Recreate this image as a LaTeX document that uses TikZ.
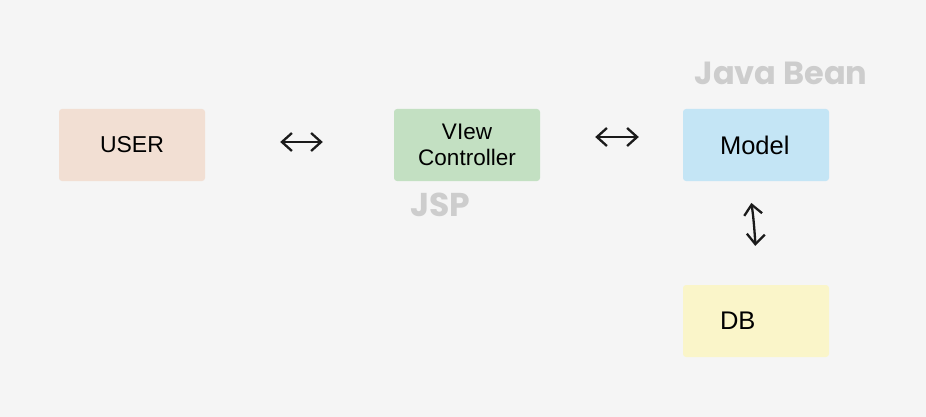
\documentclass[tikz,border=0pt]{standalone}
\usepackage{fontspec}
\setmainfont{Liberation Sans}
\newfontfamily\handfont{Poppins}
\usetikzlibrary{arrows.meta,positioning}
\definecolor{bgcol}{HTML}{F5F5F5}
\definecolor{usercol}{HTML}{F2DFD3}
\definecolor{vccol}{HTML}{C3E0C2}
\definecolor{modelcol}{HTML}{C4E5F5}
\definecolor{dbcol}{HTML}{FAF5C9}
\definecolor{notecol}{HTML}{CDCDCD}
\definecolor{arrcol}{HTML}{1A1A1A}
\tikzset{
  mvcbox/.style={rounded corners=3pt, minimum width=146pt, minimum height=72pt, inner sep=0pt, align=center},
  leftbox/.style={mvcbox, text width=72pt, align=left},
  mvcarr/.style={{Straight Barb[length=10pt,width=18pt]}-{Straight Barb[length=10pt,width=18pt]}, line width=2.3pt, draw=arrcol, line cap=round},
  hand/.style={font=\handfont\bfseries\fontsize{32}{32}\selectfont, text=notecol},
}
\begin{document}
\begin{tikzpicture}[x=1pt, y=-1pt]
  \fill[bgcol] (0,0) rectangle (926,417);
  \useasboundingbox (0,0) rectangle (926,417);

  \node[mvcbox, fill=usercol, font=\fontsize{23}{26}\selectfont] (user) at (132,145) {USER};
  \node[mvcbox, fill=vccol, font=\fontsize{22.5}{26}\selectfont] (vc) at (467,145) {VIew\\Controller};
  \node[leftbox, fill=modelcol, font=\fontsize{25.5}{28}\selectfont] (model) at (756,145) {Model};
  \node[leftbox, fill=dbcol, font=\fontsize{25.5}{28}\selectfont] (db) at (756,321) {DB};

  \node[hand] (bean) at (781,73) {Java Bean};
  \node[hand, font=\handfont\bfseries\fontsize{33}{33}\selectfont] (jsp) at (440,205) {JSP};

  \draw[mvcarr, shorten <=75pt, shorten >=71pt] ([yshift=3pt]user.east) -- ([yshift=3pt]vc.west);
  \draw[mvcarr, shorten <=55pt, shorten >=44pt] ([yshift=8pt]vc.east) -- ([yshift=8pt]model.west);
  \draw[mvcarr, shorten <=22pt, shorten >=39pt] ([xshift=-8pt]model.south) to[bend left=6] ([xshift=-3pt]db.north);
\end{tikzpicture}
\end{document}
